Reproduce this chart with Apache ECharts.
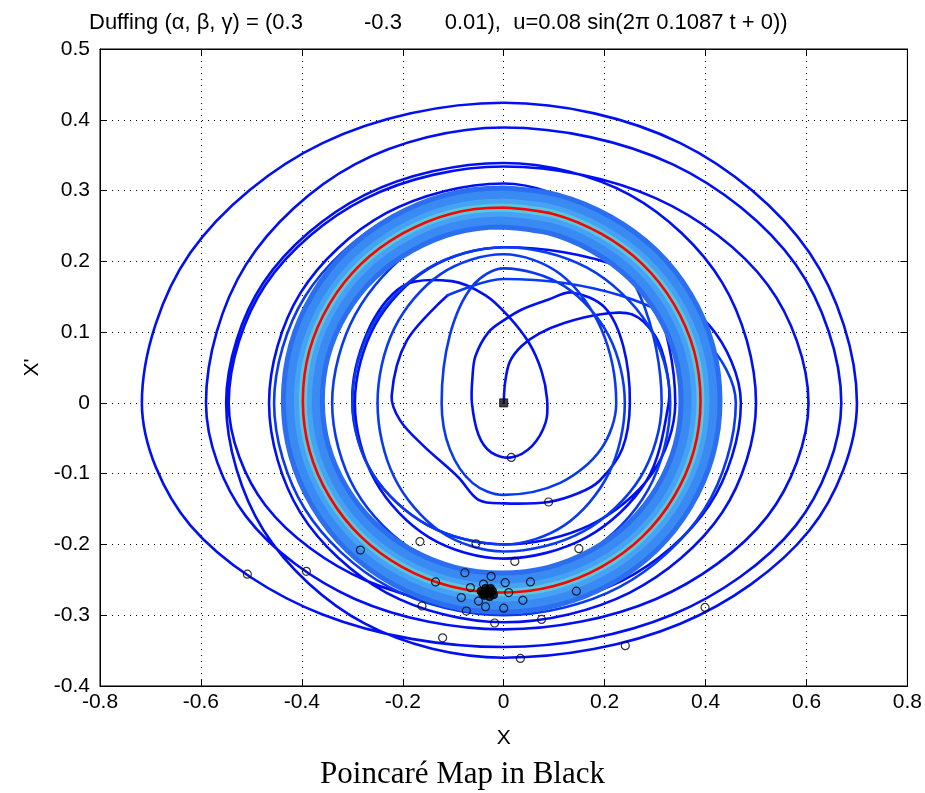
<!DOCTYPE html>
<html>
<head>
<meta charset="utf-8">
<script src="https://cdn.jsdelivr.net/npm/echarts@6/dist/echarts.min.js"></script>
<style>html,body{margin:0;padding:0;background:#fff}#c{width:925px;height:793px}</style>
</head>
<body>
<div id="c"></div>
<script>
const xTicks = {min: -0.8, max: 0.8, interval: 0.2};
const yTicks = {min: -0.4, max: 0.5, interval: 0.1};
const titleText = 'Duffing (\u03b1, \u03b2, \u03b3) = (0.3          -0.3       0.01),  u=0.08 sin(2\u03c0 0.1087 t + 0))';
const captionText = 'Poincar\u00e9 Map in Black';

// early transient (dark blue)
const transientEarly = [
 [0,0],[0.003,0.03],[0.012,0.058],[0.035,0.08],[0.07,0.098],[0.12,0.113],[0.19,0.125],[0.255,0.125],[0.30,0.095],[0.322,0.05],[0.327,0],
 [0.283,-0.11],[0.164,-0.19],[0,-0.22],[-0.148,-0.19],[-0.255,-0.11],[-0.295,0],[-0.255,0.11],[-0.148,0.19],
 [0,0.22],[0.235,0.191],[0.407,0.11],[0.47,0],[0.407,-0.145],[0.235,-0.251],[0,-0.29],[-0.273,-0.251],[-0.472,-0.145],[-0.545,0],[-0.472,0.167],[-0.273,0.289],
 [0,0.334],[0.302,0.289],[0.523,0.167],[0.604,0],[0.523,-0.16],[0.302,-0.277],[0,-0.32],[-0.295,-0.277],[-0.511,-0.16],[-0.59,0],[-0.511,0.195],[-0.295,0.337],
 [0,0.389],[0.335,0.337],[0.579,0.195],[0.669,0],[0.579,-0.173],[0.335,-0.299],[0,-0.345],[-0.359,-0.299],[-0.621,-0.173],[-0.717,0],[-0.621,0.212],[-0.359,0.367],
 [0,0.424],[0.35,0.367],[0.606,0.212],[0.70,0],[0.606,-0.18],[0.35,-0.312],[0,-0.36],[-0.275,-0.312],[-0.476,-0.18],[-0.55,0],[-0.476,0.17],[-0.275,0.294],
 [0,0.339],[0.25,0.294],[0.433,0.17],[0.50,0],[0.433,-0.155],[0.25,-0.268],[0,-0.31],[-0.233,-0.268],[-0.403,-0.155],[-0.465,0],[-0.403,0.155],[-0.233,0.268],
 [0,0.31],[0.17,0.268],[0.294,0.155],[0.34,0],[0.294,-0.10],[0.17,-0.173],[0,-0.20],[-0.15,-0.173],[-0.26,-0.10],[-0.30,0],[-0.27,0.10],[-0.2,0.165],
 [-0.103,0.172],[-0.036,0.152],[0.01,0.122],[0.05,0.085],[0.075,0.045],[0.086,0.005],[0.083,-0.028],[0.056,-0.061],[0.015,-0.077],[-0.025,-0.07],[-0.05,-0.045],[-0.063,0],[-0.062,0.035],[-0.056,0.066],[-0.03,0.1],[0.003,0.118],[0.036,0.132],[0.089,0.146],[0.135,0.156],
 [0.2,0.135],[0.237,0.08],[0.25,0.0],[0.235,-0.065],[0.19,-0.11],[0.15,-0.127],[0.089,-0.14],[0.0,-0.142],[-0.05,-0.137],[-0.09,-0.105],[-0.16,-0.06],[-0.205,-0.025],[-0.222,0.01],[-0.192,0.088],[-0.111,0.152]
];
// later transient (slightly lighter blue)
const transientLate = [
 [-0.111,0.152],
 [0,0.175],[0.23,0.152],[0.398,0.088],[0.46,0],[0.398,-0.15],[0.23,-0.26],[0,-0.30],[-0.228,-0.26],[-0.394,-0.15],[-0.455,0],[-0.394,0.15],[-0.228,0.26],
 [0,0.30],[0.157,0.26],[0.271,0.15],[0.313,0],[0.271,-0.105],[0.157,-0.182],[0,-0.21],[-0.125,-0.182],[-0.217,-0.105],[-0.25,0],[-0.217,0.105],[-0.125,0.182],
 [0,0.21],[0.112,0.182],[0.193,0.105],[0.223,0],[0.193,-0.065],[0.112,-0.113],[0,-0.13],[-0.062,-0.113],[-0.107,-0.065],[-0.123,0],[-0.107,0.095],[-0.062,0.165],
 [0,0.19],[0.12,0.165],[0.208,0.095],[0.24,0],[0.208,-0.10],[0.12,-0.173],[0,-0.20],[-0.15,-0.173],[-0.26,-0.10],[-0.30,0],[-0.26,0.11],[-0.15,0.19],
 [0,0.22],[0.165,0.191],[0.286,0.11],[0.33,0],[0.286,-0.123],[0.165,-0.212],[0,-0.245],[-0.17,-0.212],[-0.294,-0.123],[-0.34,0],[-0.294,0.125],[-0.17,0.222],[-0.02,0.255],[0.06,0.258]
];
// limit cycle (red)
const redCycle = [
 [-0.004,0.276],[0.098,0.267],[0.193,0.239],[0.275,0.196],[0.337,0.140],[0.377,0.074],[0.390,0.003],[0.377,-0.067],[0.337,-0.133],[0.275,-0.189],[0.193,-0.232],[0.098,-0.259],
 [-0.004,-0.268],[-0.106,-0.259],[-0.201,-0.232],[-0.283,-0.189],[-0.345,-0.133],[-0.385,-0.067],[-0.398,0.003],[-0.385,0.074],[-0.345,0.140],[-0.283,0.196],[-0.201,0.239],[-0.106,0.267],
 [-0.004,0.276],[0.098,0.267]
];
const poincare = [
 [-0.508,-0.242],[-0.391,-0.238],[-0.284,-0.208],[-0.166,-0.196],[-0.055,-0.199],[0.022,-0.224],[-0.135,-0.253],[-0.077,-0.24],[-0.025,-0.245],[-0.162,-0.287],[-0.074,-0.294],[-0.018,-0.311],[-0.121,-0.332],[0.033,-0.361],[0.015,-0.077],[0.089,-0.14],[0.149,-0.206],[0.053,-0.253],[0.144,-0.266],[0.003,-0.254],[0.038,-0.279],[0.0,-0.29],[0.075,-0.306],[0.399,-0.289],[0.241,-0.343],[-0.066,-0.261],[-0.04,-0.256],[0.01,-0.268],[-0.084,-0.275],[-0.05,-0.28],[-0.036,-0.288]
];
const poincareCluster = [
 [-0.045,-0.266],[-0.038,-0.272],[-0.03,-0.268],[-0.022,-0.266],[-0.028,-0.274],[-0.036,-0.262],[-0.026,-0.262],[-0.042,-0.27],[-0.02,-0.271],[-0.033,-0.268]
];
const startPoint = [[0,0]];

const FONT = '"Liberation Sans",Arial,Helvetica,sans-serif';
const fmt = v => (Math.round(v*10)/10).toString();

// a smooth curve through the data points, placed by the chart's own axes (api.coord)
function curveSeries(points, width, color, z) {
  return {
    type:'custom', coordinateSystem:'cartesian2d', data: points, silent:true, z: z, clip:true,
    encode:{x:0, y:1},
    renderItem: function (params, api) {
      if (params.dataIndex !== 0) return null;
      const pts = points.map(p => api.coord(p));
      return {type:'polyline', shape:{points: pts, smooth: 0.33},
        style:{fill:null, stroke: color, lineWidth: width, lineJoin:'round', lineCap:'round'}};
    }
  };
}

const chart = echarts.init(document.getElementById('c'), null, {renderer:'canvas'});
const axisCommon = {
  axisLine:{show:true, onZero:false, lineStyle:{color:'#000', width:1}},
  axisTick:{show:true, inside:true, length:7, lineStyle:{color:'#000'}}
};
chart.setOption({
  animation:false,
  backgroundColor:'#fff',
  title:{text:titleText, left:84, top:7, textStyle:{fontSize:22, fontWeight:'normal', color:'#000', fontFamily:FONT}},
  grid:{left:100, top:49, width:809, height:637, show:true, borderColor:'#000', borderWidth:1, backgroundColor:'#fff'},
  xAxis:[Object.assign({type:'value', min:xTicks.min, max:xTicks.max, interval:xTicks.interval, position:'bottom',
    name:'X', nameLocation:'middle', nameGap:42, nameTextStyle:{fontSize:21, color:'#000', fontFamily:FONT},
    axisLabel:{fontSize:21, color:'#000', fontFamily:FONT, margin:6, formatter:fmt},
    splitLine:{show:true, lineStyle:{color:'#000', width:1, type:[1,5]}}}, axisCommon),
   Object.assign({type:'value', min:xTicks.min, max:xTicks.max, interval:xTicks.interval, position:'top',
    axisLabel:{show:false}, splitLine:{show:false}}, axisCommon)],
  yAxis:[Object.assign({type:'value', min:yTicks.min, max:yTicks.max, interval:yTicks.interval, position:'left',
    name:"X'", nameLocation:'middle', nameGap:54, nameRotate:90, nameTextStyle:{fontSize:21, color:'#000', fontFamily:FONT},
    axisLabel:{fontSize:21, color:'#000', fontFamily:FONT, margin:10, formatter:fmt},
    splitLine:{show:true, lineStyle:{color:'#000', width:1, type:[1,5]}}}, axisCommon),
   Object.assign({type:'value', min:yTicks.min, max:yTicks.max, interval:yTicks.interval, position:'right',
    axisLabel:{show:false}, splitLine:{show:false}}, axisCommon)],
  graphic:[{type:'text', left:'center', top:759, style:{text:captionText, font:'31px "Liberation Serif","DejaVu Serif",serif', fill:'#000'}}],
  series:[
    curveSeries(transientEarly, 2.6, '#0010f2', 2),
    curveSeries(transientLate, 2.6, '#0a3af0', 2),
    curveSeries(redCycle, 44, '#2b6ff0', 3),
    curveSeries(redCycle, 34, '#3a8af3', 3),
    curveSeries(redCycle, 18, '#46a2f4', 3),
    curveSeries(redCycle, 8, '#5cc6dc', 3),
    curveSeries(redCycle, 2.6, '#ff0000', 4),
    {type:'scatter', data:poincare, symbol:'circle', symbolSize:8, silent:true, itemStyle:{color:'rgba(0,0,0,0)', borderColor:'#000', borderWidth:1.2}, z:5},
    {type:'scatter', data:poincareCluster, symbol:'circle', symbolSize:8, silent:true, itemStyle:{color:'#000', borderColor:'#000', borderWidth:1}, z:5},
    {type:'scatter', data:startPoint, symbol:'rect', symbolSize:8, silent:true, itemStyle:{color:'#111', borderColor:'#000', borderWidth:1}, z:5}
  ]
});
</script>
</body>
</html>
